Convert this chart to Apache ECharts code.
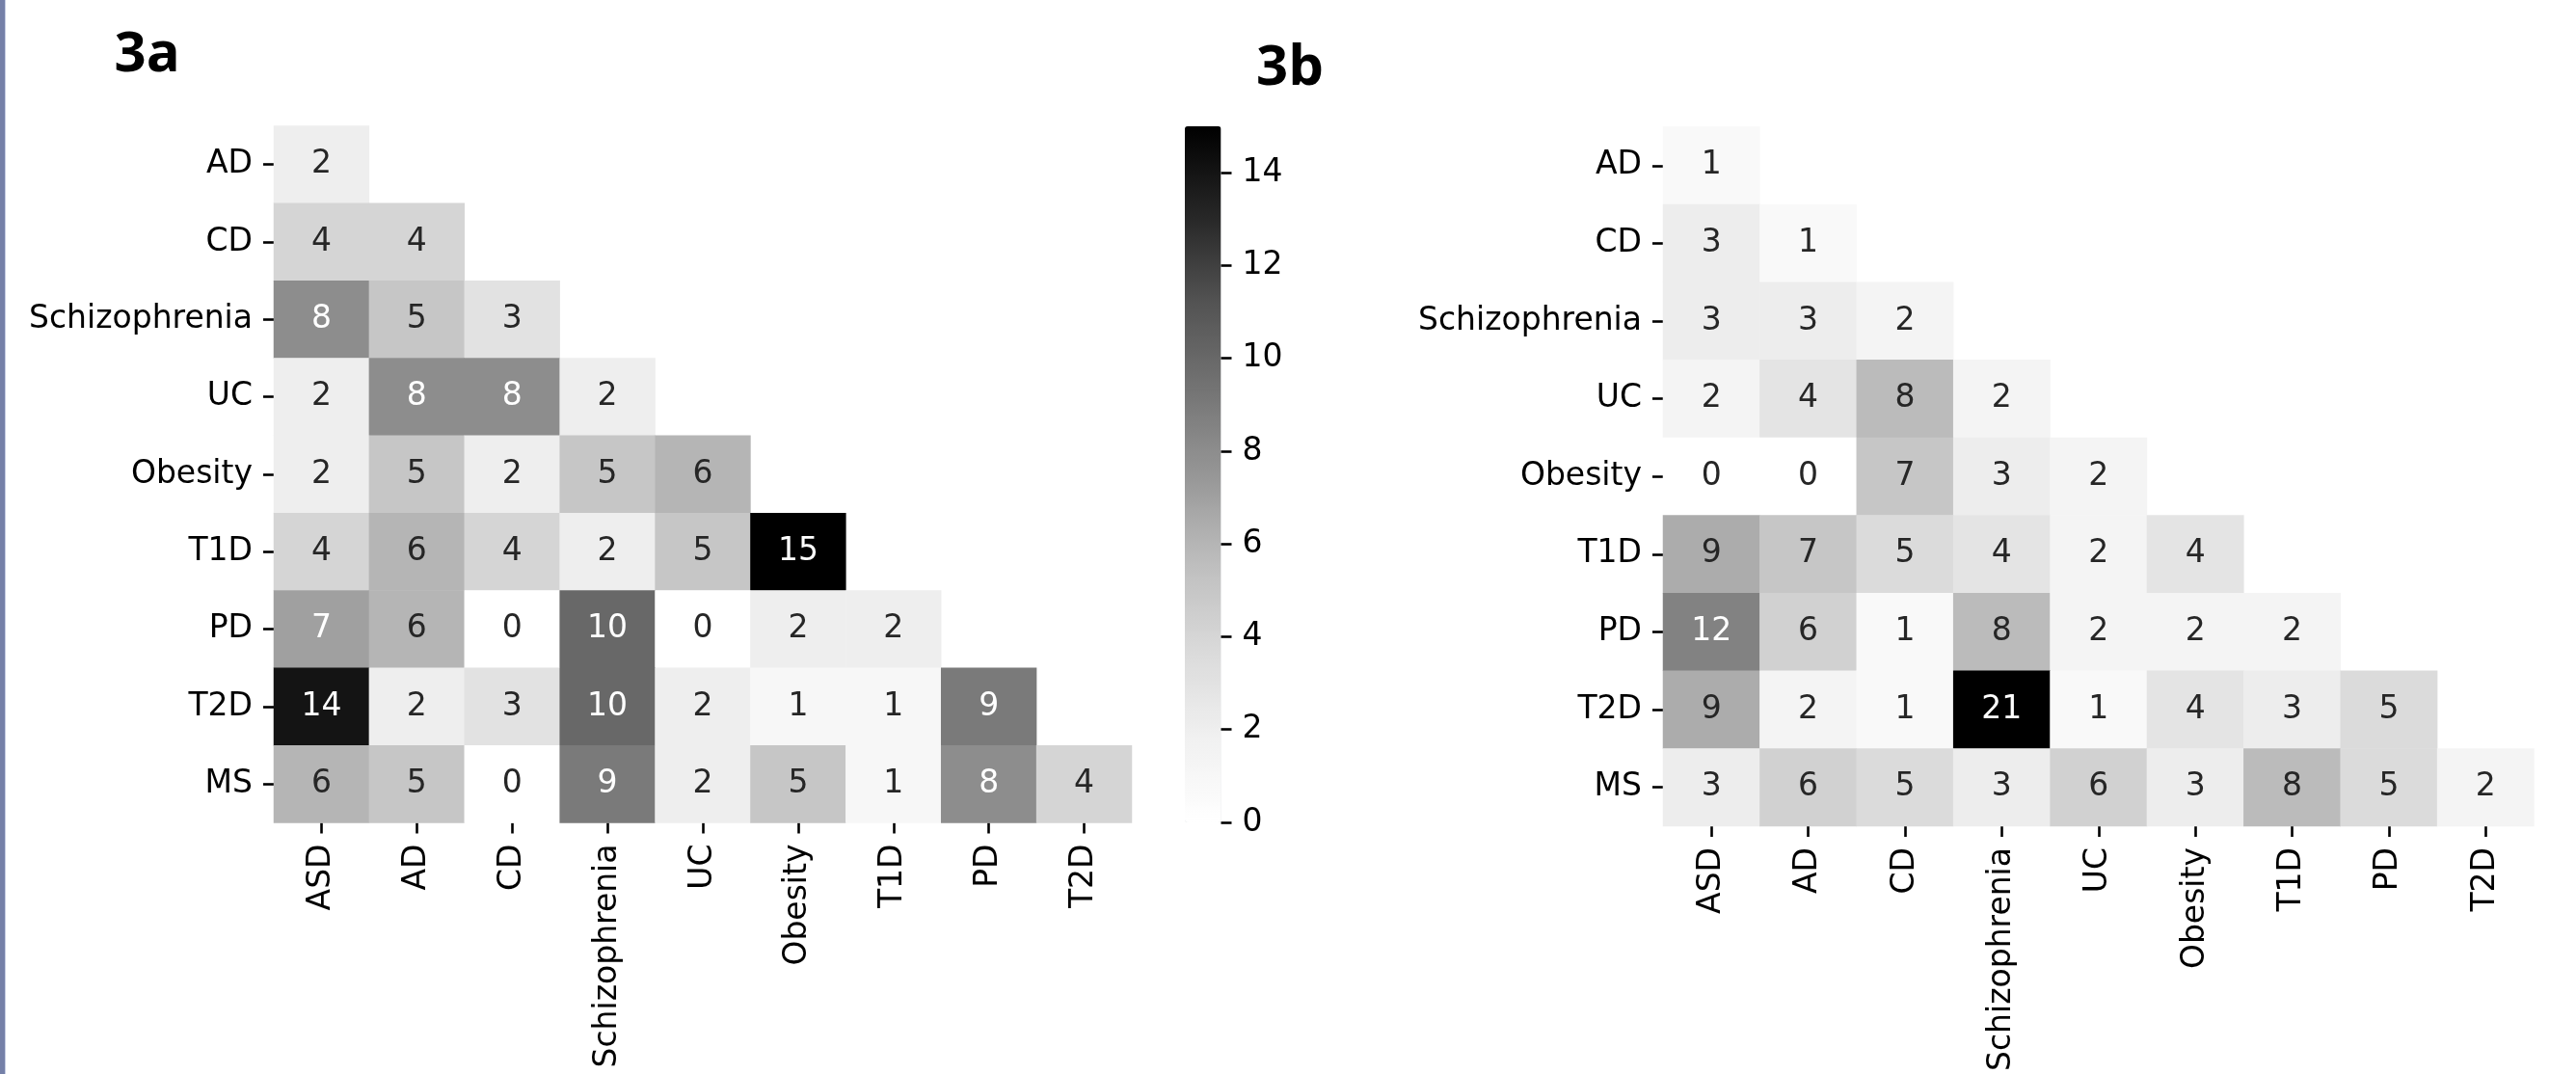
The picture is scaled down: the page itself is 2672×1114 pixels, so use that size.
<!DOCTYPE html>
<html>
<head>
<meta charset="utf-8">
<script src="https://cdn.jsdelivr.net/npm/echarts@6/dist/echarts.min.js"></script>
<style>
  html, body { margin: 0; padding: 0; background: #fff; }
  #chart { width: 2672px; height: 1114px; }
</style>
</head>
<body>
<div id="chart"></div>
<script>
// Disease labels for the lower-triangular co-occurrence matrices
const rowNames = ['AD', 'CD', 'Schizophrenia', 'UC', 'Obesity', 'T1D', 'PD', 'T2D', 'MS'];
const colNames = ['ASD', 'AD', 'CD', 'Schizophrenia', 'UC', 'Obesity', 'T1D', 'PD', 'T2D'];

// Panel 3a: shared counts, one row per row label (lower triangle only)
const counts3a = [
  [2],
  [4, 4],
  [8, 5, 3],
  [2, 8, 8, 2],
  [2, 5, 2, 5, 6],
  [4, 6, 4, 2, 5, 15],
  [7, 6, 0, 10, 0, 2, 2],
  [14, 2, 3, 10, 2, 1, 1, 9],
  [6, 5, 0, 9, 2, 5, 1, 8, 4]
];

// Panel 3b: shared counts, same layout
const counts3b = [
  [1],
  [3, 1],
  [3, 3, 2],
  [2, 4, 8, 2],
  [0, 0, 7, 3, 2],
  [9, 7, 5, 4, 2, 4],
  [12, 6, 1, 8, 2, 2, 2],
  [9, 2, 1, 21, 1, 4, 3, 5],
  [3, 6, 5, 3, 6, 3, 8, 5, 2]
];

// Colour bar tick values for panel 3a
const colorbarTicks = [0, 2, 4, 6, 8, 10, 12, 14];

// Greys colour ramp (white -> black)
const greys = ['#ffffff', '#f0f0f0', '#d9d9d9', '#bdbdbd', '#969696', '#737373', '#525252', '#252525', '#000000'];

function greyLevel(t) {
  t = Math.max(0, Math.min(1, t));
  const pos = t * (greys.length - 1);
  const i = Math.min(Math.floor(pos), greys.length - 2);
  const f = pos - i;
  const a = parseInt(greys[i].slice(1, 3), 16);
  const b = parseInt(greys[i + 1].slice(1, 3), 16);
  return a + (b - a) * f;
}

// White text on dark cells, dark text on light cells (relative luminance rule)
function textColorFor(v, vmin, vmax) {
  const g = greyLevel((v - vmin) / (vmax - vmin)) / 255;
  const lin = g <= 0.03928 ? g / 12.92 : Math.pow((g + 0.055) / 1.055, 2.4);
  return lin > 0.408 ? '#262626' : '#ffffff';
}

function buildCells(matrix) {
  const flat = matrix.flat();
  const vmin = Math.min(...flat), vmax = Math.max(...flat);
  const cells = [];
  matrix.forEach((row, r) => {
    row.forEach((v, c) => {
      cells.push({ value: [c, r, v], label: { color: textColorFor(v, vmin, vmax) } });
    });
  });
  return { cells, vmin, vmax };
}

const panelA = buildCells(counts3a);
const panelB = buildCells(counts3b);

const FONT = 'DejaVu Sans';
const FS = 33;
const tickStyle = { show: true, alignWithLabel: true, length: 11, lineStyle: { color: '#000', width: 2.6 } };
const labelStyle = { fontFamily: FONT, fontSize: FS, color: '#000' };

function xAxisFor(gridIndex) {
  return {
    type: 'category', gridIndex, data: colNames,
    axisLine: { show: false }, axisTick: tickStyle, splitLine: { show: false },
    axisLabel: Object.assign({ rotate: 90, margin: 22, interval: 0 }, labelStyle)
  };
}
function yAxisFor(gridIndex) {
  return {
    type: 'category', gridIndex, data: rowNames, inverse: true,
    axisLine: { show: false }, axisTick: tickStyle, splitLine: { show: false },
    axisLabel: Object.assign({ margin: 22, interval: 0 }, labelStyle)
  };
}

// Colour bar geometry: the gradient spans vmin..vmax, the tick axis spans the labelled ticks
const cbarTop = 131, cbarHeight = 722, cbarLeft = 1229, cbarWidth = 37.5;
const tickMin = colorbarTicks[0], tickMax = colorbarTicks[colorbarTicks.length - 1];
const pxPerUnit = cbarHeight / (panelA.vmax - panelA.vmin);
const tickGridTop = cbarTop + (panelA.vmax - tickMax) * pxPerUnit;
const tickGridHeight = (tickMax - tickMin) * pxPerUnit;

const chart = echarts.init(document.getElementById('chart'), null, { renderer: 'canvas' });

chart.setOption({
  animation: false,
  backgroundColor: '#ffffff',
  title: [
    { text: '3a', left: 113.5, top: 23, textStyle: { fontFamily: 'Open Sans', fontWeight: 'bold', fontSize: 58, color: '#000' } },
    { text: '3b', left: 1298, top: 37, textStyle: { fontFamily: 'Open Sans', fontWeight: 'bold', fontSize: 58, color: '#000' } }
  ],
  graphic: [
    { type: 'rect', left: 0, top: 0, shape: { width: 5, height: 1114 }, style: { fill: '#7580a8' }, silent: true },
    { type: 'rect', left: 5, top: 0, shape: { width: 1, height: 1114 }, style: { fill: '#c6cde3' }, silent: true }
  ],
  grid: [
    { left: 284, top: 130.5, width: 890, height: 723 },
    { left: 1725, top: 131.5, width: 903.5, height: 731 },
    { left: cbarLeft, top: tickGridTop, width: cbarWidth, height: tickGridHeight }
  ],
  xAxis: [
    xAxisFor(0),
    xAxisFor(1),
    { type: 'value', gridIndex: 2, show: false, min: 0, max: 1 }
  ],
  yAxis: [
    yAxisFor(0),
    yAxisFor(1),
    {
      type: 'value', gridIndex: 2, position: 'right', min: tickMin, max: tickMax,
      interval: colorbarTicks[1] - colorbarTicks[0], z: 10,
      axisLine: { show: false, onZero: false }, splitLine: { show: false },
      axisTick: { show: true, inside: false, length: 11, lineStyle: { color: '#000', width: 2.6 } },
      axisLabel: Object.assign({ margin: 22 }, labelStyle)
    }
  ],
  visualMap: [
    {
      type: 'continuous', seriesIndex: 0, min: panelA.vmin, max: panelA.vmax,
      calculable: false, realtime: false, text: null, showLabel: false,
      orient: 'vertical', left: cbarLeft, top: cbarTop, itemWidth: cbarWidth, itemHeight: cbarHeight, padding: 0,
      inRange: { color: greys }, hoverLink: false, z: 1
    },
    {
      type: 'continuous', seriesIndex: 1, min: panelB.vmin, max: panelB.vmax,
      show: false, inRange: { color: greys }
    }
  ],
  series: [
    {
      type: 'heatmap', xAxisIndex: 0, yAxisIndex: 0, data: panelA.cells,
      label: { show: true, fontFamily: FONT, fontSize: FS, formatter: p => String(p.value[2]) },
      itemStyle: { borderWidth: 0 }, emphasis: { disabled: true }
    },
    {
      type: 'heatmap', xAxisIndex: 1, yAxisIndex: 1, data: panelB.cells,
      label: { show: true, fontFamily: FONT, fontSize: FS, formatter: p => String(p.value[2]) },
      itemStyle: { borderWidth: 0 }, emphasis: { disabled: true }
    }
  ]
});
</script>
</body>
</html>
